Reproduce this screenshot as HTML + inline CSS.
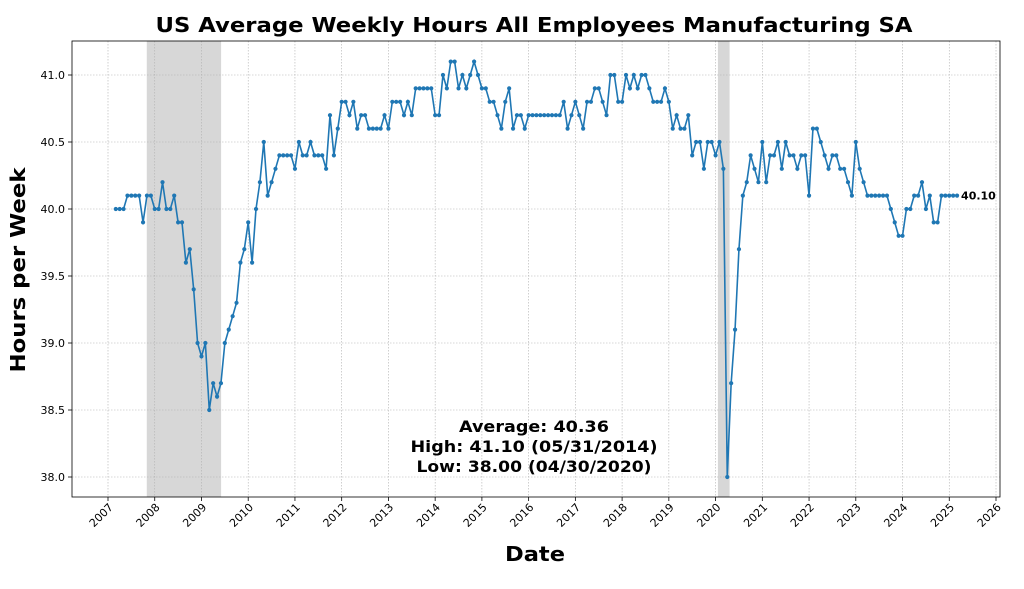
<!DOCTYPE html>
<html><head><meta charset="utf-8"><style>
body{margin:0;background:#fff;font-family:"DejaVu Sans","Liberation Sans",sans-serif}
</style></head><body>
<svg id="chart" width="1024" height="585" xmlns="http://www.w3.org/2000/svg" font-family="DejaVu Sans, Liberation Sans, sans-serif"></svg>
<script>
const startYear = 2007, startMonth = 3;
const values = [
40.0,40.0,40.0,40.1,40.1,40.1,40.1,39.9,40.1,40.1,
40.0,40.0,40.2,40.0,40.0,40.1,39.9,39.9,39.6,39.7,39.4,39.0,
38.9,39.0,38.5,38.7,38.6,38.7,39.0,39.1,39.2,39.3,39.6,39.7,
39.9,39.6,40.0,40.2,40.5,40.1,40.2,40.3,40.4,40.4,40.4,40.4,
40.3,40.5,40.4,40.4,40.5,40.4,40.4,40.4,40.3,40.7,40.4,40.6,
40.8,40.8,40.7,40.8,40.6,40.7,40.7,40.6,40.6,40.6,40.6,40.7,
40.6,40.8,40.8,40.8,40.7,40.8,40.7,40.9,40.9,40.9,40.9,40.9,
40.7,40.7,41.0,40.9,41.1,41.1,40.9,41.0,40.9,41.0,41.1,41.0,
40.9,40.9,40.8,40.8,40.7,40.6,40.8,40.9,40.6,40.7,40.7,40.6,
40.7,40.7,40.7,40.7,40.7,40.7,40.7,40.7,40.7,40.8,40.6,40.7,
40.8,40.7,40.6,40.8,40.8,40.9,40.9,40.8,40.7,41.0,41.0,40.8,
40.8,41.0,40.9,41.0,40.9,41.0,41.0,40.9,40.8,40.8,40.8,40.9,
40.8,40.6,40.7,40.6,40.6,40.7,40.4,40.5,40.5,40.3,40.5,40.5,
40.4,40.5,40.3,38.0,38.7,39.1,39.7,40.1,40.2,40.4,40.3,40.2,
40.5,40.2,40.4,40.4,40.5,40.3,40.5,40.4,40.4,40.3,40.4,40.4,
40.1,40.6,40.6,40.5,40.4,40.3,40.4,40.4,40.3,40.3,40.2,40.1,
40.5,40.3,40.2,40.1,40.1,40.1,40.1,40.1,40.1,40.0,39.9,39.8,
39.8,40.0,40.0,40.1,40.1,40.2,40.0,40.1,39.9,39.9,40.1,40.1,
40.1,40.1,40.1];
const xTicks = [2007,2008,2009,2010,2011,2012,2013,2014,2015,2016,2017,2018,2019,2020,2021,2022,2023,2024,2025,2026];
const yTicks = [38.0,38.5,39.0,39.5,40.0,40.5,41.0];
const recessions = [[2007.83, 2009.42],[2020.05, 2020.3]];
const statsLines = ["Average: 40.36","High: 41.10 (05/31/2014)","Low: 38.00 (04/30/2020)"];

const L=72,R=1000,T=41,B=497;
const x0=2007,x1=2026,X0px=108,X1px=996;
const sx=v=>X0px+(v-x0)*(X1px-X0px)/(x1-x0);
const sy=v=>477+(38-v)*(477-75)/3;
const svg=document.getElementById('chart');
const NS='http://www.w3.org/2000/svg';
function mk(tag,attrs,parent){const e=document.createElementNS(NS,tag);for(const k in attrs)e.setAttribute(k,attrs[k]);(parent||svg).appendChild(e);return e;}

recessions.forEach(r=>{const e=mk('rect',{x:sx(r[0]),y:T,width:sx(r[1])-sx(r[0]),height:B-T,fill:'#d3d3d3',opacity:0.9});

});

xTicks.forEach(t=>{const X=sx(t);
const g=mk('line',{x1:X,x2:X,y1:T,y2:B,stroke:'#b0b0b0','stroke-width':0.6,'stroke-dasharray':'1.5,1.5'});


mk('line',{x1:X,x2:X,y1:B,y2:B+4,stroke:'#000','stroke-width':0.8});
const cy=B+18;
const tx=mk('text',{x:X-7,y:cy+4,'font-size':11,'text-anchor':'middle',transform:`rotate(-45 ${X-7} ${cy})`});
tx.textContent=t;

});

yTicks.forEach(t=>{const Y=sy(t);
const g=mk('line',{x1:L,x2:R,y1:Y,y2:Y,stroke:'#b0b0b0','stroke-width':0.6,'stroke-dasharray':'1.5,1.5'});


mk('line',{x1:L-4,x2:L,y1:Y,y2:Y,stroke:'#000','stroke-width':0.8});
const tx=mk('text',{x:L-7,y:Y+4,'font-size':11,'text-anchor':'end'});
tx.textContent=t.toFixed(1);

});

const pts=values.map((v,i)=>{const d=startYear+(startMonth-1+i)/12;return [sx(d),sy(v)];});
const line=mk('polyline',{points:pts.map(p=>p.join(',')).join(' '),fill:'none',stroke:'#1f77b4','stroke-width':1.6});


pts.forEach(p=>{const c=mk('circle',{cx:p[0],cy:p[1],r:2.1,fill:'#1f77b4'});

});

const last=pts[pts.length-1];
const lab=mk('text',{x:last[0]+4,y:last[1]+4,'font-size':11,'font-weight':'bold'});
lab.textContent=values[values.length-1].toFixed(2);



const fr=mk('rect',{x:L,y:T,width:R-L,height:B-T,fill:'none',stroke:'#000','stroke-width':0.8});



const statW=[150,247,235];
statsLines.forEach((s,i)=>{const t=mk('text',{x:534,y:432+i*20,'font-size':16,'font-weight':'bold','text-anchor':'middle',textLength:statW[i],lengthAdjust:'spacingAndGlyphs'});
t.textContent=s;

});

const ti=mk('text',{x:534,y:32,'font-size':20,'font-weight':'bold','text-anchor':'middle',textLength:757,lengthAdjust:'spacingAndGlyphs'});
ti.textContent='US Average Weekly Hours All Employees Manufacturing SA';


const xl=mk('text',{x:535,y:561,'font-size':20,'font-weight':'bold','text-anchor':'middle',textLength:60,lengthAdjust:'spacingAndGlyphs'});
xl.textContent='Date';


const yl=mk('text',{x:0,y:0,'font-size':20,'font-weight':'bold','text-anchor':'middle',textLength:205,lengthAdjust:'spacingAndGlyphs',transform:'translate(25 270) rotate(-90)'});
yl.textContent='Hours per Week';


</script>
</body></html>
